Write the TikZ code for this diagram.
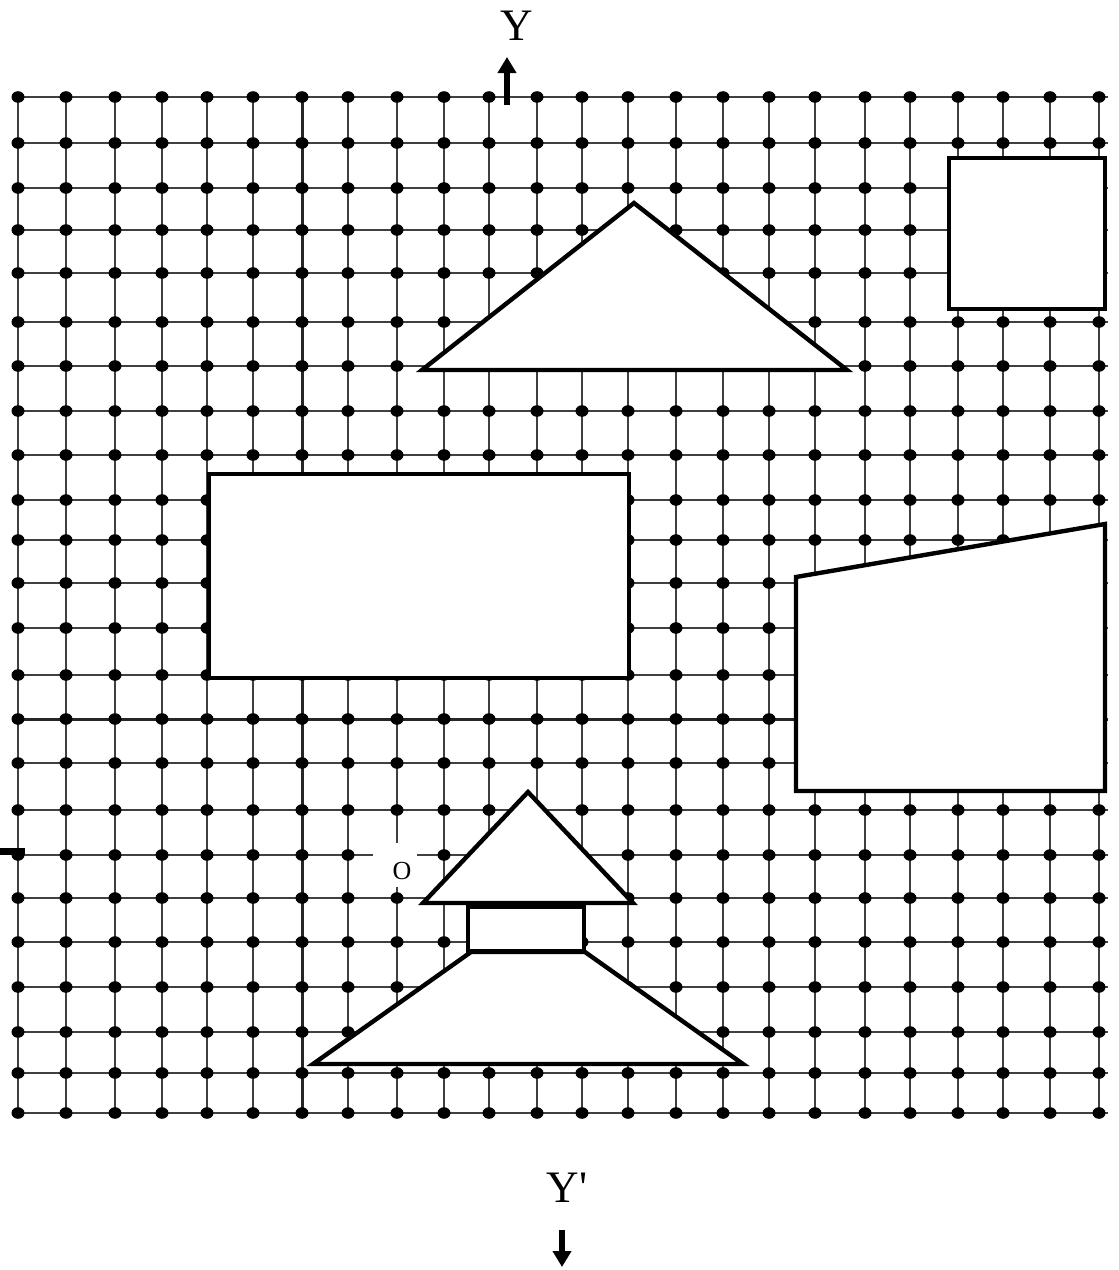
\documentclass[tikz,border=0pt]{standalone}
\usepackage{fontspec}
\setmainfont{Liberation Serif}
\usetikzlibrary{arrows.meta, positioning}
\tikzset{
    gridline/.style = {draw=black!75, line width=1.2pt},
    axisline/.style = {draw=black!85, line width=1.5pt},
    dotnode/.style = {fill=black},
    shapenode/.style = {draw=black, fill=white, line width=2.2pt},
    axisarrow/.style = {-{Triangle[width=9pt, length=8pt]}, line width=3pt},
    textnode/.style = {draw=none, fill=none, inner sep=0pt, font=\fontsize{22.5}{26}\selectfont},
    smalltextnode/.style = {draw=none, fill=none, inner sep=0pt, font=\fontsize{13}{15}\selectfont}
}
\def\gridcols{18,66,115,162,207,253,302,348,397,444,489,537,582,628,676,723,769,815,865,910,958,1003,1050,1099}
\def\gridrows{97,143,188,230,273,322,366,411,455,500,540,583,628,675,719,763,810,855,898,942,987,1032,1073,1113}

\begin{document}
\begin{tikzpicture}[x=0.5pt, y=-0.5pt]
    \useasboundingbox (0,0) rectangle (1119,1270);

    % grid with dots
    \foreach \y in \gridrows {\draw[gridline] (12,\y) -- (1108,\y);}
    \foreach \x in \gridcols {\draw[gridline] (\x,97) -- (\x,1116);}
    \draw[axisline] (12,719) -- (1108,719);
    \draw[axisline] (302,97) -- (302,1116);
    \foreach \x in \gridcols {
        \foreach \y in \gridrows {\fill[dotnode] (\x,\y) ellipse [x radius=6.5, y radius=5.8];}
    }

    % axes
    \coordinate (ytail) at (507,105);
    \coordinate (ytip) at (507,57);
    \draw[axisarrow] (ytail) -- (ytip);
    \node[textnode, anchor=base] (ylabel) at (517,40) {Y};

    \node[textnode, anchor=base] (yplabel) at (567,1202) {Y\textquotesingle};
    \coordinate (yptail) at (562,1230);
    \coordinate (yptip) at (562,1267);
    \draw[axisarrow] (yptail) -- (yptip);

    \coordinate (xstub) at (0,851);
    \coordinate (xstubend) at (25,851);
    \draw[line width=3.5pt] (xstub) -- (xstubend);

    \node[fill=white, minimum width=22pt, minimum height=22pt, inner sep=0pt] (obox) at (395,865) {};
    \node[smalltextnode] (olabel) at (402,871) {O};

    % shapes
    \draw[shapenode] (422,370) -- (634,203) -- (847,370) -- cycle;
    \draw[shapenode] (949,158) rectangle (1105,309);
    \draw[shapenode] (209,474) rectangle (629,678);
    \draw[shapenode] (796,577) -- (1105,524) -- (1105,791) -- (796,791) -- cycle;
    \draw[shapenode] (313,1064) -- (471,952) -- (585,952) -- (743,1064) -- cycle;
    \draw[shapenode] (468,907) rectangle (584,951);
    \draw[shapenode] (423,903) -- (528,792) -- (633,903) -- cycle;
\end{tikzpicture}
\end{document}
